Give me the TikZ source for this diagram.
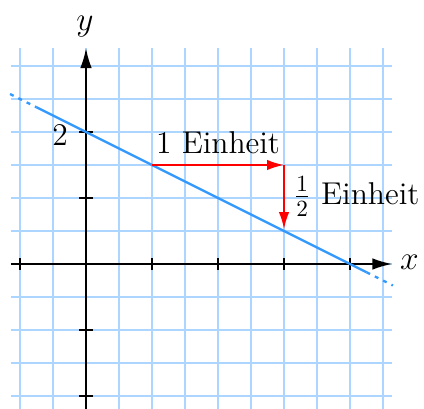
\documentclass[tikz,border=0pt]{standalone}
\usetikzlibrary{arrows.meta}
\definecolor{gridblue}{RGB}{172,213,255}
\definecolor{lineblue}{RGB}{51,153,255}
\tikzset{
  gridline/.style={draw=gridblue, line width=0.45pt},
  axis/.style={draw=black, line width=0.8pt, -{Latex[length=8.6pt,width=5pt]}},
  tickmark/.style={draw=black, line width=0.8pt},
  graphline/.style={draw=lineblue, line width=1pt},
  graphdots/.style={draw=lineblue, line width=1pt, dash pattern=on 1.7pt off 2.3pt},
  stepArrow/.style={draw=red, line width=0.8pt, -{Latex[length=7.3pt,width=4.5pt]}},
  lbl/.style={font=\fontsize{13.6}{16}\selectfont, inner sep=0pt}
}
\begin{document}
\begin{tikzpicture}[x=1cm,y=1cm]
  \useasboundingbox (-1.30303,-2.18182) rectangle (5.12121,4);
  % grid
  \draw[gridline] (-1.14,-2.3) grid[step=0.5] (4.64,3.27);
  % axes
  \coordinate (xstart) at (-1.14,0);
  \coordinate (xend) at (4.64,0);
  \coordinate (ystart) at (0,-2.3);
  \coordinate (yend) at (0,3.27);
  \draw[axis] (xstart) -- (xend);
  \draw[axis] (ystart) -- (yend);
  % ticks
  \foreach \t in {-1,1,2,3,4} \draw[tickmark] (\t,-0.09) -- (\t,0.09);
  \foreach \t in {-2,-1,1,2} \draw[tickmark] (-0.1,\t) -- (0.1,\t);
  % labels
  \node[lbl] (ylab) at (-0.015,3.59) {$y$};
  \node[lbl] (xlab) at (4.90,0.023) {$x$};
  \node[lbl] (two) at (-0.394,1.955) {2};
  % graph line y = 2 - x/2
  \coordinate (l0) at (-1.15,2.575);
  \coordinate (l1) at (-0.75,2.375);
  \coordinate (l2) at (4.25,-0.125);
  \coordinate (l3) at (4.65,-0.325);
  \draw[graphdots] (l0) -- (l1);
  \draw[graphline] (l1) -- (l2);
  \draw[graphdots] (l2) -- (l3);
  % step arrows
  \coordinate (p1) at (1,1.5);
  \coordinate (p2) at (3,1.5);
  \coordinate (p3) at (3,0.53);
  \draw[stepArrow] (p1) -- (p2);
  \draw[stepArrow] (p2) -- (p3);
  \node[lbl, anchor=base] (runlab) at (2.0,1.68) {1 Einheit};
  \node[lbl, anchor=base west] (riselab) at (3.14,0.894) {$\frac12$ Einheit};
\end{tikzpicture}
\end{document}
